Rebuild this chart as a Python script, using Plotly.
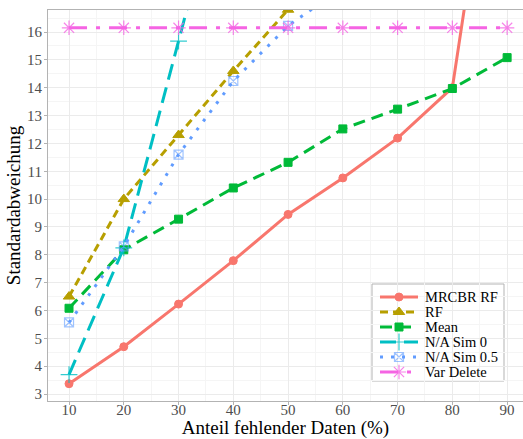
import plotly.graph_objects as go

mrcbr_x = [10, 20, 30, 40, 50, 60, 70, 80, 90]
mrcbr_y = [3.37, 4.70, 6.23, 7.79, 9.45, 10.76, 12.19, 14.0, 27.0]

rf_x = [10, 20, 30, 40, 50]
rf_y = [6.5, 10.0, 12.3, 14.6, 16.8]

mean_x = [10, 20, 30, 40, 50, 60, 70, 80, 90]
mean_y = [6.08, 8.18, 9.28, 10.4, 11.32, 12.52, 13.23, 13.97, 15.08]

sim0_x = [10, 20, 30, 40]
sim0_y = [3.7, 8.25, 15.67, 23.2]

sim05_x = [10, 20, 30, 40, 50, 60]
sim05_y = [5.57, 8.3, 11.6, 14.24, 16.22, 17.6]

vardel_x = [10, 20, 30, 40, 50, 60, 70, 80, 90]
vardel_y = [16.15] * 9

series_names = ["MRCBR RF", "RF", "Mean", "N/A Sim 0", "N/A Sim 0.5", "Var Delete"]

x_ticks = [10, 20, 30, 40, 50, 60, 70, 80, 90]
y_ticks = [3, 4, 5, 6, 7, 8, 9, 10, 11, 12, 13, 14, 15, 16]

FONT = "Liberation Serif"

W, H = 523, 439
ML, MR, MT, MB = 48, 0, 10, 38
PW, PH = W - ML - MR, H - MT - MB

styles = [
    dict(color="#F8766D", dash="solid", symbol="circle", size=8, mlw=1, op=1.0),
    dict(color="#B79F00", dash="8px,5px", symbol="triangle-up", size=10, mlw=1, op=1.0),
    dict(color="#00BA38", dash="12px,7px", symbol="square", size=8, mlw=1, op=1.0),
    dict(color="#00BFC4", dash="16px,8px", symbol="cross-thin-open", size=12, mlw=1.2, op=0.8),
    dict(color="#619CFF", dash="3px,8px", symbol="square-x-open", size=9, mlw=1.2, op=0.6),
    dict(color="#F564E3", dash="18px,9px,4px,9px", symbol="asterisk-open", size=12, mlw=1.2, op=0.8),
]
data = [(mrcbr_x, mrcbr_y), (rf_x, rf_y), (mean_x, mean_y),
        (sim0_x, sim0_y), (sim05_x, sim05_y), (vardel_x, vardel_y)]

fig = go.Figure()

for name, (xs, ys), st in zip(series_names, data, styles):
    fig.add_trace(go.Scatter(
        x=xs, y=ys, name=name, mode="lines",
        line=dict(color=st["color"], width=3, dash=st["dash"]),
        showlegend=False, hoverinfo="skip",
    ))
    fig.add_trace(go.Scatter(
        x=xs, y=ys, name=name, mode="markers",
        marker=dict(color=st["color"], symbol=st["symbol"], size=st["size"],
                    opacity=st["op"], line=dict(color=st["color"], width=st["mlw"])),
        showlegend=False,
    ))

# ---- custom legend (drawn in a pixel-space overlay axis) ----
leg_left, leg_right, leg_top, leg_bottom = 372, 504, 284, 381
row0, row_step = 297, 15
glyph_l, glyph_c, glyph_r = 380, 399, 418
text_x = 424

def fx(px):
    return px - ML

def fy(py):
    return (H - MB) - py

for i, (name, st) in enumerate(zip(series_names, styles)):
    ry = fy(row0 + i * row_step)
    fig.add_trace(go.Scatter(
        x=[fx(glyph_l), fx(glyph_r)], y=[ry, ry], mode="lines",
        line=dict(color=st["color"], width=3, dash=st["dash"]),
        xaxis="x2", yaxis="y2", showlegend=False, hoverinfo="skip",
    ))
    fig.add_trace(go.Scatter(
        x=[fx(glyph_c)], y=[ry], mode="markers",
        marker=dict(color=st["color"], symbol=st["symbol"], size=st["size"],
                    opacity=st["op"], line=dict(color=st["color"], width=st["mlw"])),
        xaxis="x2", yaxis="y2", showlegend=False, hoverinfo="skip",
    ))
    fig.add_annotation(
        x=fx(text_x), y=ry, xref="x2", yref="y2", text=name, showarrow=False,
        xanchor="left", yanchor="middle", borderpad=0,
        font=dict(family=FONT, size=14.5, color="black"),
    )

fig.add_shape(type="rect", xref="x2", yref="y2",
              x0=fx(leg_left), x1=fx(leg_right), y0=fy(leg_bottom), y1=fy(leg_top),
              line=dict(color="#B3B3B3", width=1), fillcolor="white", layer="below")

fig.update_layout(
    width=W, height=H,
    margin=dict(l=ML, r=MR, t=MT, b=MB),
    plot_bgcolor="white", paper_bgcolor="white",
    font=dict(family=FONT, size=15, color="#4D4D4D"),
    showlegend=False,
    xaxis=dict(
        range=[6.16, 92.9], tickvals=x_ticks, ticktext=[str(v) for v in x_ticks],
        showgrid=True, gridcolor="#EBEBEB", gridwidth=1,
        minor=dict(tickvals=[15, 25, 35, 45, 55, 65, 75, 85], showgrid=True,
                   gridcolor="#F5F5F5", gridwidth=1),
        showline=True, linecolor="#B3B3B3", linewidth=1.2, mirror=True,
        ticks="outside", ticklen=3, tickcolor="#B3B3B3", tickwidth=1,
        zeroline=False, ticklabelstandoff=-8,
        title=dict(text="Anteil fehlender Daten (%)", font=dict(family=FONT, size=19, color="black"), standoff=0),
        tickfont=dict(family=FONT, size=15, color="#4D4D4D"),
    ),
    yaxis=dict(
        range=[2.75, 16.79], tickvals=y_ticks, ticktext=[str(v) for v in y_ticks],
        showgrid=True, gridcolor="#EBEBEB", gridwidth=1,
        minor=dict(tickvals=[v + 0.5 for v in range(2, 17)], showgrid=True,
                   gridcolor="#F5F5F5", gridwidth=1),
        showline=True, linecolor="#B3B3B3", linewidth=1.2, mirror=True,
        ticks="outside", ticklen=3, tickcolor="#B3B3B3", tickwidth=1,
        zeroline=False, ticklabelstandoff=-1,
        title=dict(text="Standardabweichung", font=dict(family=FONT, size=19, color="black"), standoff=1),
        tickfont=dict(family=FONT, size=15, color="#4D4D4D"),
    ),
    xaxis2=dict(range=[0, PW], overlaying="x", visible=False, fixedrange=True),
    yaxis2=dict(range=[0, PH], overlaying="y", visible=False, fixedrange=True),
)

fig.write_html("out.html")
